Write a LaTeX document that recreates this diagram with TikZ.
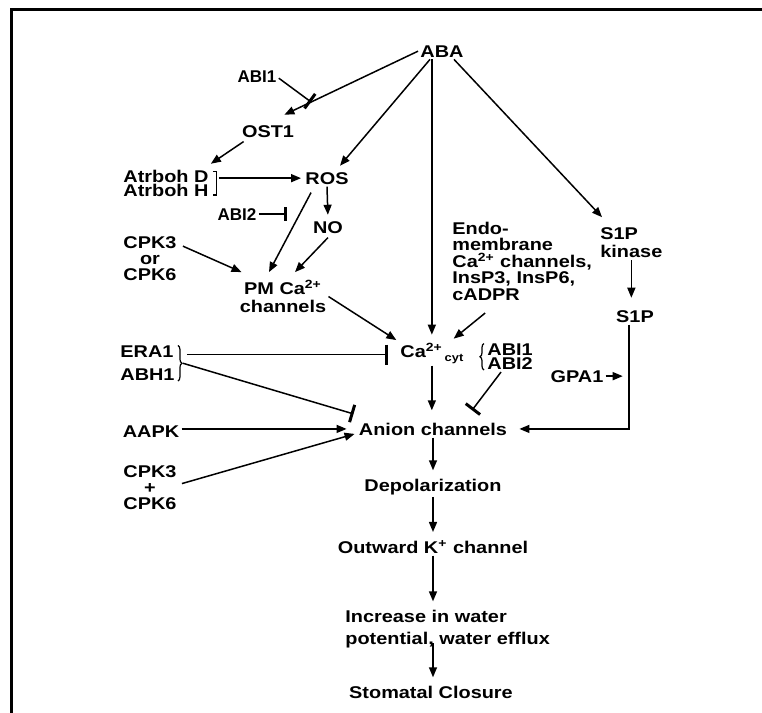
\documentclass[tikz,border=0pt]{standalone}
\usepackage{fontspec}
\setmainfont{Liberation Sans}[FakeStretch=1.17]
\newfontfamily\narrowsans{Liberation Sans}
\usetikzlibrary{arrows.meta,calc,decorations.pathreplacing}
\tikzset{
    path-text/.style = {inner sep=1pt, font=\fontsize{8.5}{#1}\selectfont\bfseries},
    path-text/.default = 10,
    path-small/.style = {inner sep=1pt, font=\narrowsans\fontsize{8.5}{10}\selectfont\bfseries},
    act-arrow/.style = {line width=0.75pt, -{Triangle[length=5pt,width=4pt]}},
    inh-arrow/.style = {line width=0.75pt, -{Bar[width=#1,line width=1.5pt]}},
    inh-arrow/.default = 9pt,
    brace-line/.style = {line width=0.6pt},
}

\begin{document}
\begin{tikzpicture}[x=0.5pt, y=-0.5pt]
\useasboundingbox (0,0) rectangle (762,713);
\draw[line width=1.5pt] (11,713) -- (11,9) -- (762,9);

\node[path-text, anchor=base] (aba) at (442,57) {ABA};
\node[path-small, anchor=base] (abione) at (257,82) {ABI1};
\node[path-text, anchor=base] (ost) at (268,137) {OST1};
\node[path-text=7, anchor=south west, align=left] (atrb) at (121,199) {Atrboh D\\Atrboh H};
\node[path-text, anchor=base] (ros) at (327,184) {ROS};
\node[path-small, anchor=base] (abitwo) at (237,220) {ABI2};
\node[path-text, anchor=base] (no) at (328,233) {NO};
\node[path-text=8, anchor=south, align=center] (cpkor) at (150,283) {CPK3\\or\\CPK6};
\node[path-text=9, anchor=south, align=center] (pm) at (283,315) {PM Ca\textsuperscript{2+}\\channels};
\node[path-text=8.3, anchor=south west, align=left] (endo) at (450,303) {Endo-\\membrane\\Ca\textsuperscript{2+} channels,\\InsP3, InsP6,\\cADPR};
\node[path-text=9, anchor=south west, align=left] (sk) at (598,260) {S1P\\kinase};
\node[path-text, anchor=base] (sp) at (635,322) {S1P};
\node[path-text, anchor=base west] (ca) at (398,357) {Ca\textsuperscript{2+}\raisebox{-2pt}{\fontsize{5.5}{6}\selectfont\hspace{1pt}cyt}};
\node[path-text=7, anchor=south west, align=left] (abib) at (485,372) {ABI1\\ABI2};
\node[path-text=11.5, anchor=south west, align=left] (era) at (118,383) {ERA1\\ABH1};
\node[path-text, anchor=base] (gpa) at (577,382) {GPA1};
\node[path-text, anchor=base] (aapk) at (151,437) {AAPK};
\node[path-text, anchor=base] (anion) at (433,435) {Anion channels};
\node[path-text=8, anchor=south, align=center] (cpkplus) at (150,512) {CPK3\\+\\CPK6};
\node[path-text, anchor=base] (depol) at (433,491) {Depolarization};
\node[path-text, anchor=base] (kout) at (433,553) {Outward K\textsuperscript{+} channel};
\node[path-text=11, anchor=south west, align=left] (water) at (343,650) {Increase in water\\potential, water efflux};
\node[path-text, anchor=base] (closure) at (431,698) {Stomatal Closure};

% ABA branch
\path (aba.west) -- ([shift={(-6pt,4pt)}]ost.north east) coordinate[pos=0.8] (ost-block);
\draw[act-arrow] (aba.west) -- ([shift={(-6pt,4pt)}]ost.north east);
\draw[inh-arrow] ([yshift=-1pt]abione.east) -- (ost-block);
\draw[act-arrow] ([xshift=-6pt]aba.south) -- ([shift={(6.5pt,2pt)}]ros.north);
\draw[act-arrow, shorten >=3pt] (aba.south -| ca.north) -- (ca.north);
\draw[act-arrow] ([xshift=6pt]aba.south) -- ([shift={(2pt,4pt)}]sk.north west);

% ROS and PM channels
\draw[act-arrow] ([shift={(2pt,-1pt)}]ost.south west) -- ([yshift=2pt]atrb.north east);
\draw[brace-line] ([shift={(1pt,-2pt)}]atrb.north east) -| ([shift={(3pt,2pt)}]atrb.south east) -- ([shift={(1pt,2pt)}]atrb.south east);
\draw[act-arrow, shorten >=1pt] ($(atrb.east |- ros.west)+(4pt,0)$) -- (ros.west);
\draw[act-arrow, shorten >=2pt] (ros.south) -- (no.north);
\draw[act-arrow] ([shift={(4pt,-3pt)}]ros.south west) -- ([shift={(-7pt,3pt)}]pm.north);
\draw[act-arrow] ([yshift=-1pt]no.south) -- ([shift={(6pt,3pt)}]pm.north);
\coordinate (abitwo-end) at ([xshift=14pt]abitwo.east);
\draw[inh-arrow=7pt] (abitwo.east) -- (abitwo-end);
\draw[act-arrow] ([shift={(2pt,-6pt)}]cpkor.north east) -- ([shift={(2pt,3pt)}]pm.north west);
\draw[act-arrow, shorten >=1pt] (pm.east) -- ([yshift=6pt]ca.west);
\draw[act-arrow] ([shift={(-18.5pt,-5pt)}]endo.south) -- ([shift={(-6pt,1pt)}]ca.north east);

% S1P
\draw[act-arrow, shorten >=5pt] (sk.south) -- (sk.south |- sp.north);
\draw[act-arrow] ([xshift=-3pt]sp.south) |- ([xshift=5pt]anion.east);
\coordinate (gpa-end) at ([xshift=8.5pt]gpa.east);
\draw[act-arrow] (gpa.east) -- (gpa-end);

% anion channels
\draw[act-arrow, shorten >=5pt] (ca.south) -- (ca.south |- anion.north);
\draw[decorate, decoration={brace,amplitude=2pt}, brace-line] ([shift={(-0.5pt,1pt)}]abib.south west) -- ([shift={(-0.5pt,-1pt)}]abib.north west);
\draw[inh-arrow] ([xshift=-4.5pt]abib.south) -- ([shift={(19.5pt,5pt)}]anion.north);
\draw[decorate, decoration={brace,amplitude=2pt}, brace-line] ([shift={(0.5pt,-1pt)}]era.north east) -- ([shift={(0.5pt,1pt)}]era.south east);
\coordinate (era-top) at ([shift={(5pt,-5.5pt)}]era.north east);
\draw[inh-arrow=10pt, shorten >=5pt] (era-top) -- (era-top -| ca.west);
\draw[inh-arrow] ([xshift=3pt]era.east) -- ([shift={(-1.5pt,7.5pt)}]anion.west);
\draw[act-arrow, shorten >=5pt] (aapk.east |- anion.west) -- (anion.west);
\draw[act-arrow] ([shift={(1.5pt,2pt)}]cpkplus.east) -- ([shift={(-1pt,-2.5pt)}]anion.west);

% to closure
\draw[act-arrow, shorten >=3pt] (anion.south) -- (anion.south |- depol.north);
\draw[act-arrow, shorten >=3pt] (depol.south) -- (depol.south |- kout.north);
\draw[act-arrow, shorten >=3pt] (kout.south) -- (kout.south |- water.north);
\draw[act-arrow, shorten >=3pt] ($(kout.south |- water.south)+(0,3.5pt)$) -- (kout.south |- closure.north);
\end{tikzpicture}
\end{document}
